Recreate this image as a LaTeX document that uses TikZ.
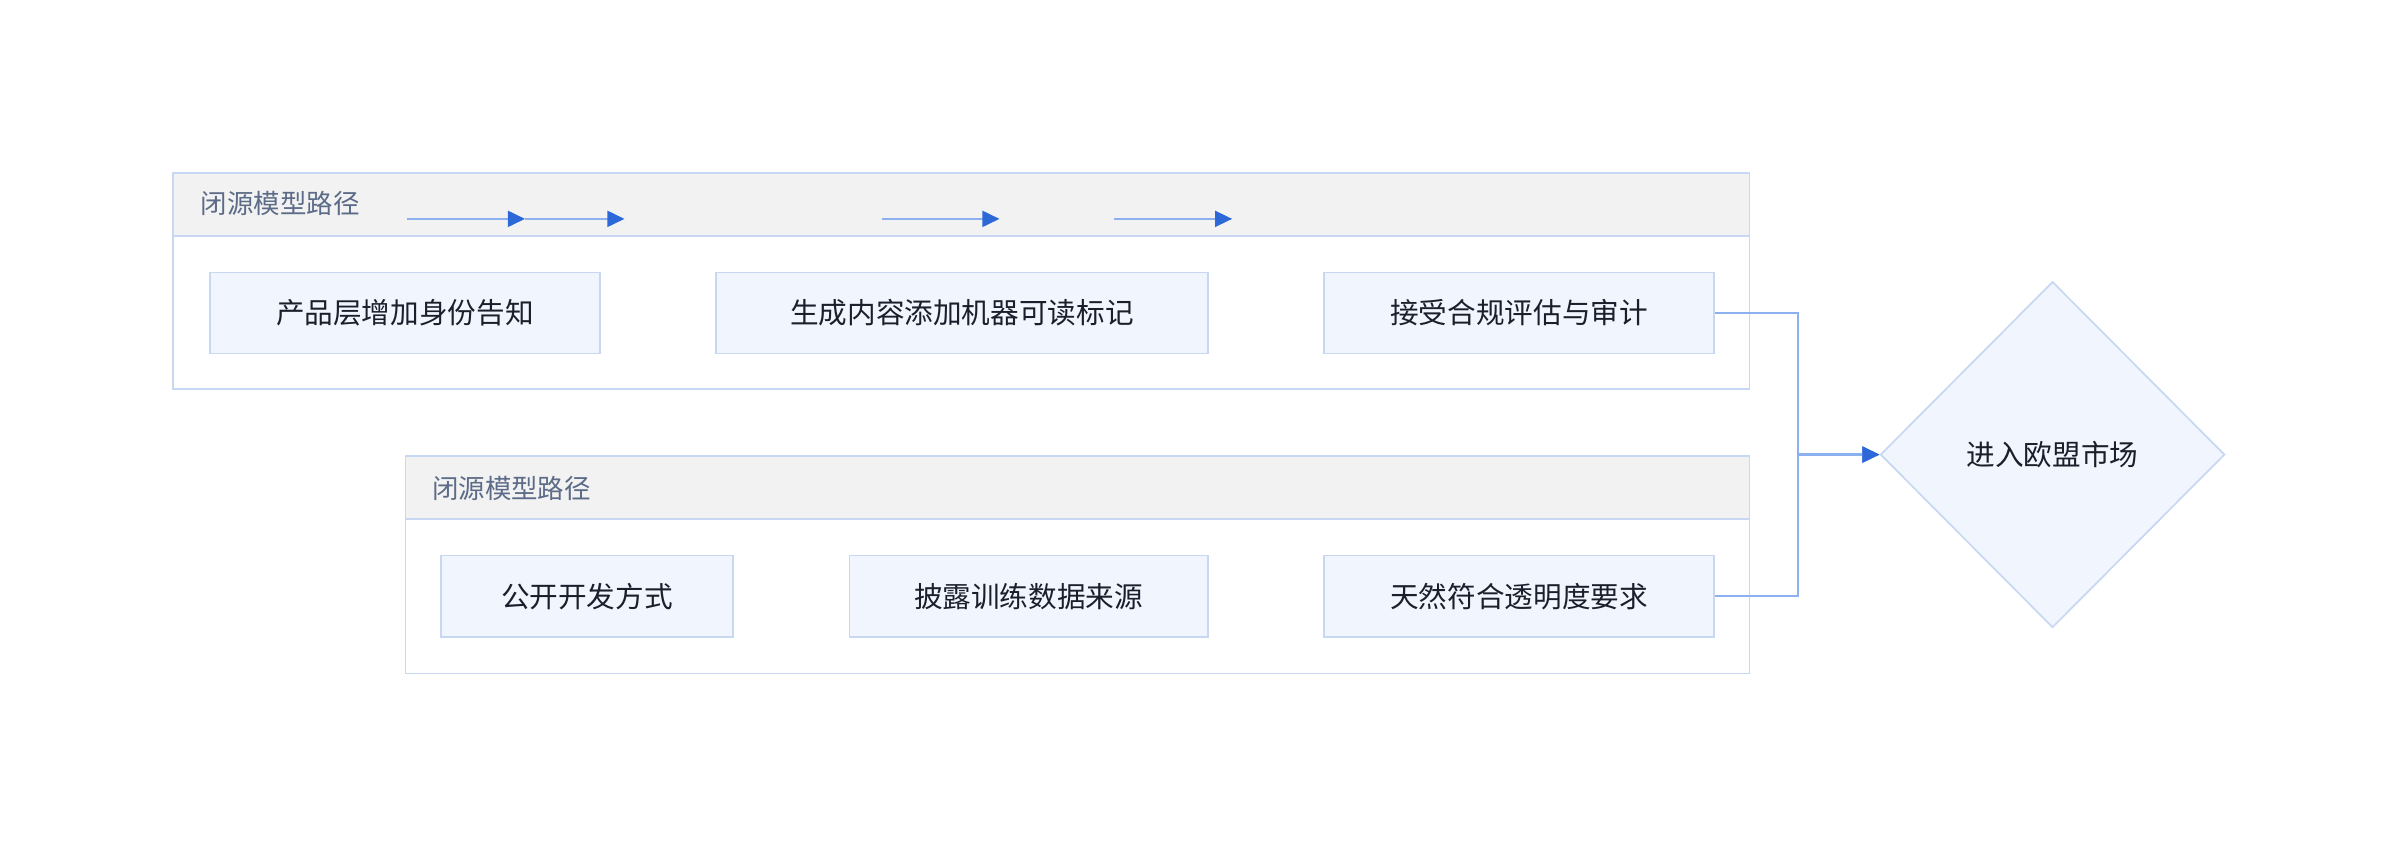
\documentclass[tikz,border=0pt]{standalone}
\usepackage{fontspec}
\setmainfont{Noto Sans CJK SC}
\usepackage{tikz}
\usetikzlibrary{arrows.meta, shapes.geometric}
\definecolor{myline}{RGB}{200, 216, 242}
\definecolor{myfill}{RGB}{240, 245, 254}
\definecolor{myhead}{RGB}{242, 242, 242}
\definecolor{mygray}{RGB}{92, 107, 135}
\definecolor{myblue}{RGB}{140, 176, 240}
\definecolor{mytip}{RGB}{45, 104, 216}
\definecolor{mytext}{RGB}{26, 31, 43}
\tikzset{>={Triangle[length = 2.8mm, width = 2.6mm, color = mytip]}}
\tikzset{stepbox/.style = {draw = myline, line width = 0.8pt, fill = myfill, text = mytext, font = \fontsize{13.3}{16}\selectfont, minimum height = 13.25mm, inner sep = 0pt}}
\tikzset{flow/.style = {myblue, line width = 1.1pt, ->}}

\begin{document}
\begin{tikzpicture}[x = 0.25mm, y = -0.25mm]
\useasboundingbox (0,0) rectangle (1568,554);
% first group
\draw[line width = 0.8pt, myline, fill = myhead] (113,113) rectangle (1143,154);
\draw[line width = 0.8pt, myline] (113,113) rectangle (1143,254);
\node[anchor = west, text = mygray, font = \fontsize{12.3}{15}\selectfont, inner sep = 0pt] (head1) at (131,133) {闭源模型路径};
\node[stepbox, minimum width = 63.75mm] (label1) at (264.5,204.5) {产品层增加身份告知};
\node[stepbox, minimum width = 80.25mm] (label2) at (628.5,204.5) {生成内容添加机器可读标记};
\node[stepbox, minimum width = 63.75mm] (label3) at (992.5,204.5) {接受合规评估与审计};
% second group
\draw[line width = 0.8pt, myline, fill = myhead] (265,298) rectangle (1143,339);
\draw[line width = 0.8pt, myline] (265,298) rectangle (1143,440);
\node[anchor = west, text = mygray, font = \fontsize{12.3}{15}\selectfont, inner sep = 0pt] (head2) at (282,319) {闭源模型路径};
\node[stepbox, minimum width = 47.75mm] (label4) at (383.5,389.5) {公开开发方式};
\node[stepbox, minimum width = 58.5mm] (label5) at (672,389.5) {披露训练数据来源};
\node[stepbox, minimum width = 63.75mm] (label6) at (992.5,389.5) {天然符合透明度要求};
% market
\node[diamond, aspect = 1, draw = myline, line width = 0.8pt, fill = myfill, text = mytext, font = \fontsize{13.3}{16}\selectfont, minimum width = 56.25mm, minimum height = 56.5mm, inner sep = 0pt] (market) at (1341,297) {进入欧盟市场};
% stray arrows in the header
\coordinate (a1) at (266,143);
\coordinate (a2) at (343,143);
\coordinate (a3) at (408,143);
\coordinate (a4) at (576,143);
\coordinate (a5) at (653,143);
\coordinate (a6) at (728,143);
\coordinate (a7) at (805,143);
\draw[flow] (a1) -- (a2);
\draw[flow] (a2) -- (a3);
\draw[flow] (a4) -- (a5);
\draw[flow] (a6) -- (a7);
% into the market
\draw[flow] (label3.east) -- ++(54,0) |- (market.west);
\draw[flow] (label6.east) -- ++(54,0) |- (market.west);
\end{tikzpicture}
\end{document}
